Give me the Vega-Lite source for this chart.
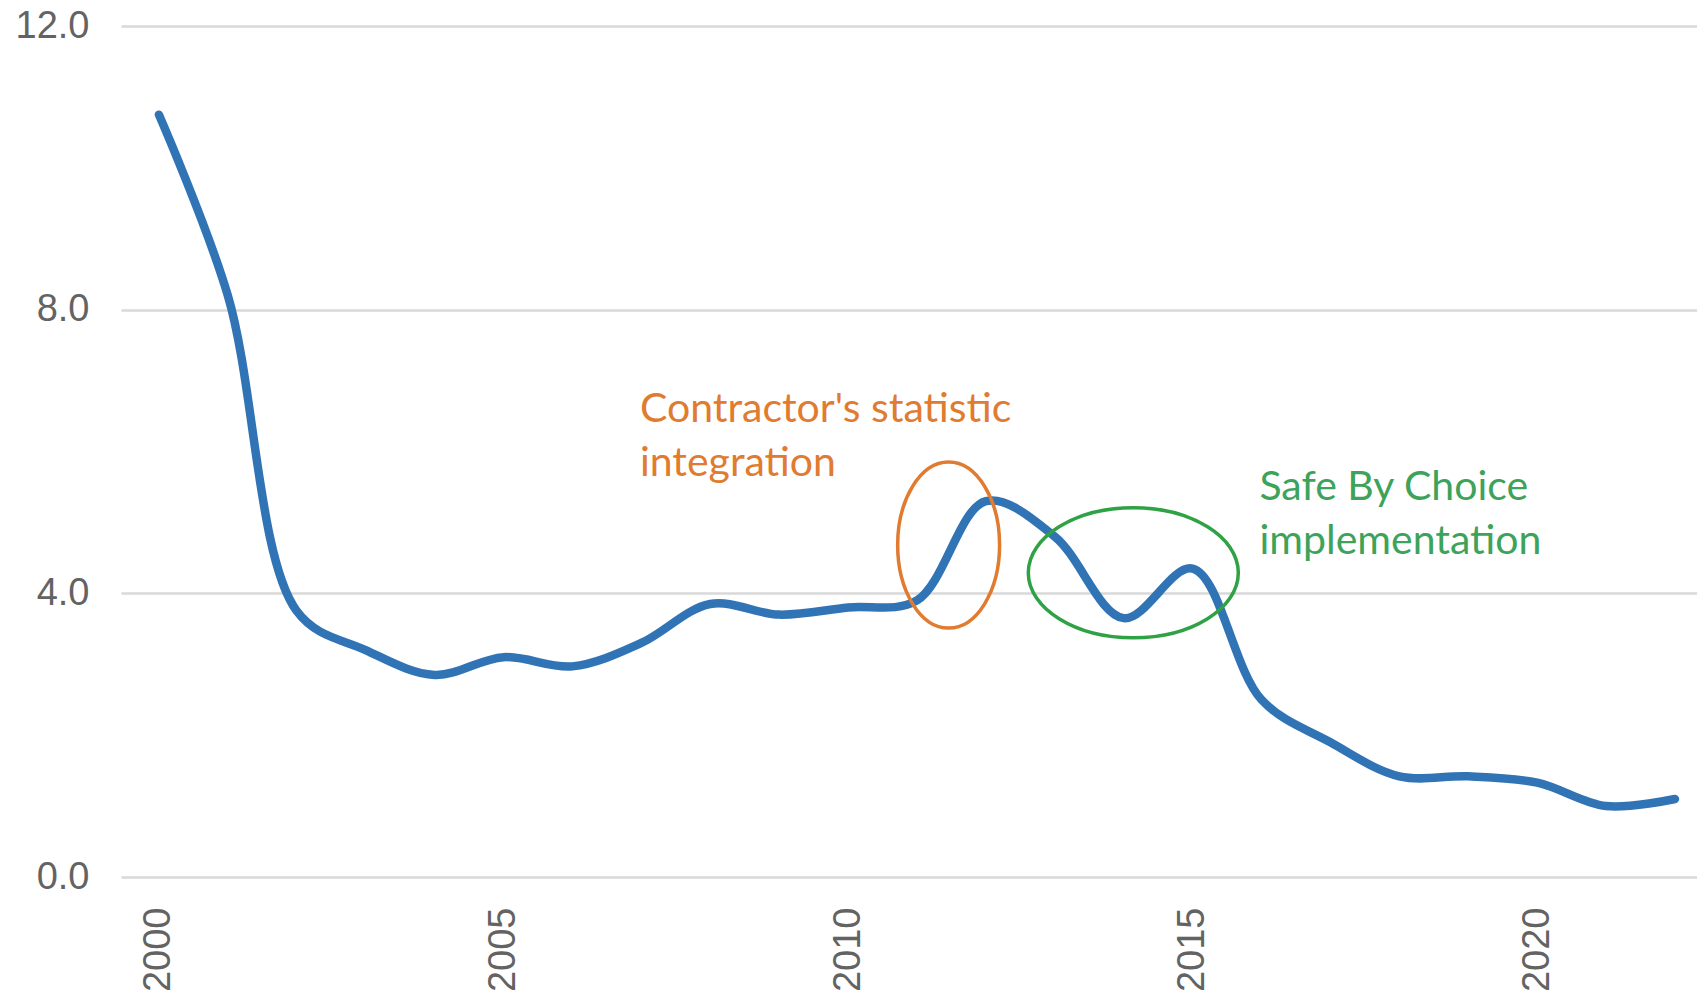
{
  "$schema": "https://vega.github.io/schema/vega-lite/v6.json",
  "autosize": {"type": "none"},
  "padding": {"left": 121, "top": 26, "right": 0, "bottom": 117},
  "width": 1576,
  "height": 851,
  "background": "white",
  "config": {"view": {"stroke": null}},
  "layer": [
    {
      "data": {"values": [
        {"year": 2000, "value": 10.75},
        {"year": 2001, "value": 8.2},
        {"year": 2002, "value": 3.75},
        {"year": 2003, "value": 3.2},
        {"year": 2004, "value": 2.85},
        {"year": 2005, "value": 3.1},
        {"year": 2006, "value": 2.97},
        {"year": 2007, "value": 3.3},
        {"year": 2008, "value": 3.85},
        {"year": 2009, "value": 3.7},
        {"year": 2010, "value": 3.8},
        {"year": 2011, "value": 3.9},
        {"year": 2012, "value": 5.3},
        {"year": 2013, "value": 4.8},
        {"year": 2014, "value": 3.65},
        {"year": 2015, "value": 4.35},
        {"year": 2016, "value": 2.5},
        {"year": 2017, "value": 1.9},
        {"year": 2018, "value": 1.42},
        {"year": 2019, "value": 1.42},
        {"year": 2020, "value": 1.33},
        {"year": 2021, "value": 1.0},
        {"year": 2022, "value": 1.1}
      ]},
      "mark": {"type": "line", "interpolate": "catmull-rom", "color": "#3174b6", "strokeWidth": 8.5, "strokeCap": "round", "strokeJoin": "round"},
      "encoding": {
        "x": {
          "field": "year", "type": "quantitative",
          "scale": {"domain": [1999.45, 2022.32], "nice": false, "zero": false},
          "axis": {
            "title": null, "values": [2000, 2005, 2010, 2015, 2020], "format": "d",
            "labelAngle": 270, "labelPadding": 30, "labelFontSize": 38,
            "labelFont": "Liberation Sans", "labelColor": "#636363",
            "grid": false, "domain": false, "ticks": false
          }
        },
        "y": {
          "field": "value", "type": "quantitative",
          "scale": {"domain": [0, 12], "nice": false},
          "axis": {
            "title": null, "values": [0, 4, 8, 12], "format": ".1f",
            "labelPadding": 32, "labelFontSize": 38,
            "labelFont": "Liberation Sans", "labelColor": "#636363",
            "grid": true, "gridColor": "#d9d9d9", "gridWidth": 2.5,
            "domain": false, "ticks": false
          }
        }
      }
    },
    {
      "data": {"values": [{"year": 2011.46, "value": 4.68}]},
      "mark": {"type": "point", "shape": "M -0.614 0 A 0.614 1 0 1 1 0.614 0 A 0.614 1 0 1 1 -0.614 0 Z", "size": 27556, "filled": false, "stroke": "#e07b30", "strokeWidth": 3.5, "opacity": 1},
      "encoding": {"x": {"field": "year", "type": "quantitative"}, "y": {"field": "value", "type": "quantitative"}}
    },
    {
      "data": {"values": [{"year": 2014.14, "value": 4.29}]},
      "mark": {"type": "point", "shape": "M -1 0 A 1 0.62 0 1 1 1 0 A 1 0.62 0 1 1 -1 0 Z", "size": 44100, "filled": false, "stroke": "#2fa245", "strokeWidth": 3.5, "opacity": 1},
      "encoding": {"x": {"field": "year", "type": "quantitative"}, "y": {"field": "value", "type": "quantitative"}}
    },
    {
      "data": {"values": [
        {"year": 2006.98, "value": 6.42, "label": "Contractor's statistic"},
        {"year": 2006.98, "value": 5.66, "label": "integration"}
      ]},
      "mark": {"type": "text", "align": "left", "baseline": "alphabetic", "font": "Lato", "fontSize": 41, "color": "#e07b30"},
      "encoding": {"x": {"field": "year", "type": "quantitative"}, "y": {"field": "value", "type": "quantitative"}, "text": {"field": "label"}}
    },
    {
      "data": {"values": [
        {"year": 2015.97, "value": 5.32, "label": "Safe By Choice"},
        {"year": 2015.97, "value": 4.55, "label": "implementation"}
      ]},
      "mark": {"type": "text", "align": "left", "baseline": "alphabetic", "font": "Lato", "fontSize": 41, "color": "#3da35a"},
      "encoding": {"x": {"field": "year", "type": "quantitative"}, "y": {"field": "value", "type": "quantitative"}, "text": {"field": "label"}}
    }
  ]
}
